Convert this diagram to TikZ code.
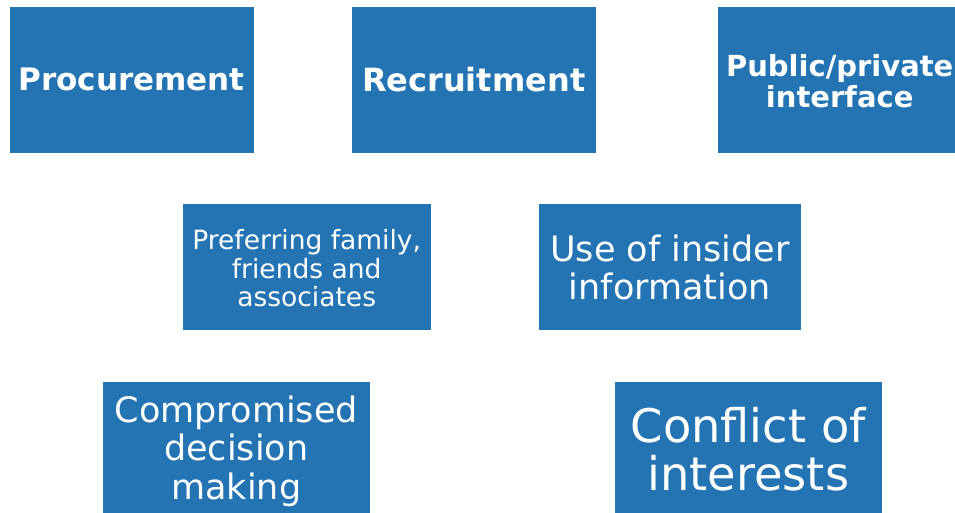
\documentclass[tikz,border=0pt]{standalone}
\usepackage{fontspec}
\setmainfont{DejaVu Sans}
\definecolor{boxblue}{RGB}{36,116,180}
\begin{document}
\begin{tikzpicture}[x=1pt,y=-1pt,
  box/.style={fill=boxblue, draw=none, text=white, align=center, inner sep=0pt, outer sep=0pt, anchor=north west},
  lbl/.style={text=white, align=center, inner sep=0pt},
]
\useasboundingbox (0,0) rectangle (955,513);
\clip (0,0) rectangle (955,513);
\node[box, minimum width=244pt, minimum height=145.7pt] (proc) at (9.5,7) {};
\node[box, minimum width=244pt, minimum height=145.7pt] (recr) at (351.7,7) {};
\node[box, minimum width=244pt, minimum height=145.7pt] (pub) at (717.7,7) {};
\node[box, minimum width=248pt, minimum height=125.7pt] (pref) at (182.7,204.3) {};
\node[box, minimum width=261.7pt, minimum height=125.7pt] (insd) at (539,204.3) {};
\node[box, minimum width=267.3pt, minimum height=140pt] (comp) at (102.7,382) {};
\node[box, minimum width=266.7pt, minimum height=140pt] (conf) at (615,382) {};

\node[lbl, font=\fontsize{31}{36}\selectfont\bfseries] (tproc) at (proc.center) {Procurement};
\node[lbl, font=\fontsize{32}{36}\selectfont\bfseries] (trecr) at (recr.center) {Recruitment};
\node[lbl, font=\fontsize{29}{31}\selectfont\bfseries] (tpub) at ([yshift=-1pt]pub.center) {Public/private\\interface};
\node[lbl, font=\fontsize{26.5}{28.5}\selectfont] (tpref) at ([yshift=-1pt]pref.center) {Preferring family,\\friends and\\associates};
\node[lbl, font=\fontsize{35}{37.7}\selectfont] (tinsd) at (insd.center) {Use of insider\\information};
\node[lbl, font=\fontsize{35}{38.5}\selectfont] (tcomp) at (236.3,451) {Compromised\\decision\\making};
\node[lbl, font=\fontsize{46.3}{48}\selectfont] (tconf) at (748.3,449) {Conflict of\\interests};
\end{tikzpicture}
\end{document}
